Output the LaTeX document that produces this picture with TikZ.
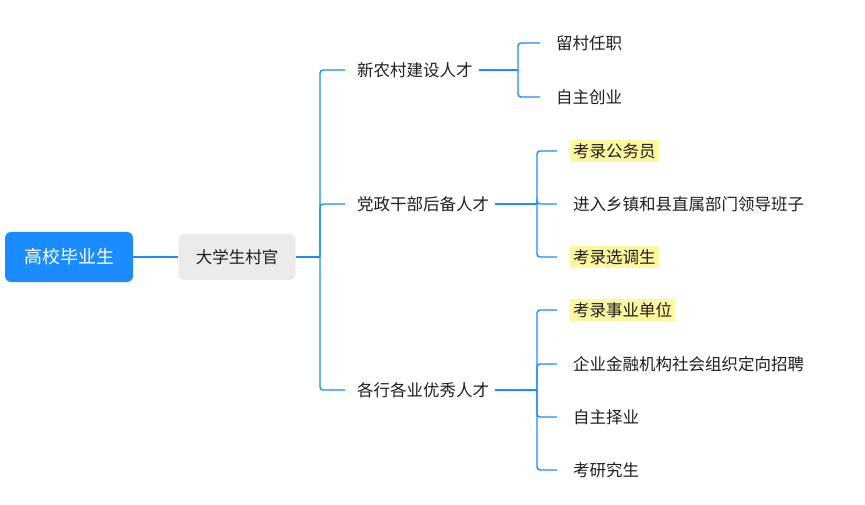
\documentclass[tikz,border=0pt]{standalone}
\usepackage{fontspec}
\setmainfont{Noto Sans CJK SC}
\begin{document}
\begin{tikzpicture}[x=1pt,y=-1pt,
  ln/.style={draw=blue!50!cyan!80!black, color={rgb,255:red,26;green,140;blue,255}, line width=1.4pt, rounded corners=3pt},
  t/.style={anchor=west, inner sep=2pt, font=\fontsize{16.5}{18}\selectfont, text={rgb,255:red,30;green,30;blue,30}},
  hl/.style={t, fill={rgb,255:red,255;green,246;blue,160}, inner xsep=3pt, inner ysep=3pt}]
\useasboundingbox (0,0) rectangle (865,505);
\node[fill={rgb,255:red,26;green,140;blue,255}, rounded corners=6pt, minimum width=128pt, minimum height=50pt, text=white, font=\fontsize{18}{20}\selectfont] (root) at (69,257) {高校毕业生};
\node[fill={rgb,255:red,235;green,235;blue,235}, rounded corners=6pt, minimum width=117pt, minimum height=46pt, font=\fontsize{16.5}{18}\selectfont, text={rgb,255:red,30;green,30;blue,30}] (cg) at (237,257) {大学生村官};
\node[t] (a) at (355,70) {新农村建设人才};
\node[t] (b) at (355,204) {党政干部后备人才};
\node[t] (c) at (355,390) {各行各业优秀人才};
\node[t] (a1) at (554,43) {留村任职};
\node[t] (a2) at (554,97) {自主创业};
\node[hl] (b1) at (570,151) {考录公务员};
\node[t] (b2) at (571,204) {进入乡镇和县直属部门领导班子};
\node[hl] (b3) at (570,257) {考录选调生};
\node[hl] (c1) at (570,310) {考录事业单位};
\node[t] (c2) at (571,364) {企业金融机构社会组织定向招聘};
\node[t] (c3) at (571,417) {自主择业};
\node[t] (c4) at (571,470) {考研究生};
\coordinate (j0) at (320,257);
\draw[ln] (root.east) -- (cg.west);
\draw[ln] (cg.east) -- (j0);
\foreach \n in {a,b,c} \draw[ln] (j0) |- ([xshift=-10pt]\n.west);
\coordinate (ja) at (518,70);
\draw[ln] ([xshift=4pt]a.east) -- (ja);
\foreach \n in {a1,a2} \draw[ln] (ja) |- ([xshift=-14pt]\n.west);
\coordinate (jb) at (537,204);
\draw[ln] ([xshift=4pt]b.east) -- (jb);
\foreach \n in {b1,b2,b3} \draw[ln] (jb) |- (557,0 |- \n.west);
\coordinate (jc) at (537,390);
\draw[ln] ([xshift=4pt]c.east) -- (jc);
\foreach \n in {c1,c2,c3,c4} \draw[ln] (jc) |- (557,0 |- \n.west);
\end{tikzpicture}
\end{document}
